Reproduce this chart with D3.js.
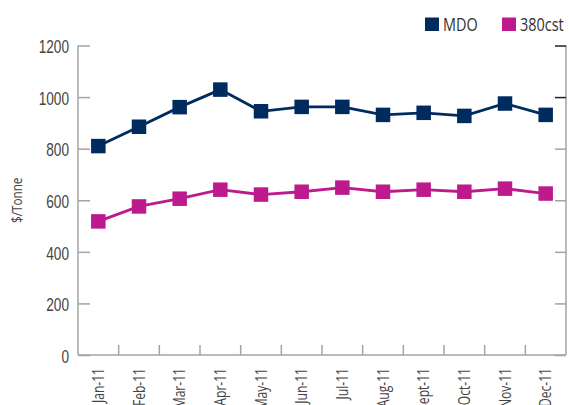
<!DOCTYPE html>
<html>
<head>
<meta charset="utf-8">
<script src="https://cdn.jsdelivr.net/npm/d3@7"></script>
<style>
  body { margin: 0; background: #fff; }
  svg { display: block; font-family: "Open Sans", sans-serif; }
</style>
</head>
<body>
<svg width="569" height="405"></svg>
<script>
// data
var months = ["Jan-11", "Feb-11", "Mar-11", "Apr-11", "May-11", "Jun-11",
              "Jul-11", "Aug-11", "Sept-11", "Oct-11", "Nov-11", "Dec-11"];
var mdo = [810, 885, 961, 1029, 945, 962, 962, 931, 939, 927, 975, 931];
var cst380 = [518, 576, 606, 641, 622, 633, 649, 633, 641, 633, 645, 626];
var yTicks = [0, 200, 400, 600, 800, 1000, 1200];
var seriesNames = ["MDO", "380cst"];
var seriesColors = ["#002b5f", "#bd1a8d"];

var svg = d3.select("svg");
var plotL = 78, plotR = 566, plotT = 45.5, plotB = 355;
var narrow = " scale(0.78,1)";   // no condensed face installed, squeeze the text

var x = d3.scaleBand().domain(months).range([plotL, plotR]);
var y = d3.scaleLinear().domain([0, 1200]).range([plotB, plotT]);

var axisGrey = "#a3a3a3";
var textCol = "#444";

// left axis, ticks point inward
var yAxis = svg.append("g")
    .attr("transform", "translate(" + plotL + ",0)")
    .call(d3.axisLeft(y).tickValues(yTicks).tickSize(-12).tickFormat(d3.format("d")));
yAxis.select(".domain").attr("stroke", axisGrey).attr("stroke-width", 1.5)
    .attr("d", "M0," + y(1200) + "V" + plotB);
yAxis.selectAll(".tick line").attr("stroke", axisGrey).attr("stroke-width", 1.5);
yAxis.selectAll(".tick text").attr("fill", textCol).style("font-size", "17.5px")
    .attr("x", 0).attr("dy", "0.36em")
    .attr("transform", "translate(-9,1)" + narrow);

// right axis
var yAxisR = svg.append("g")
    .attr("transform", "translate(" + plotR + ",0)")
    .call(d3.axisRight(y).tickValues(yTicks).tickSize(-11).tickFormat(""));
yAxisR.select(".domain").attr("stroke", axisGrey).attr("stroke-width", 1.5)
    .attr("d", "M0," + y(1200) + "V" + plotB);
yAxisR.selectAll(".tick line").attr("stroke-width", 1.5)
    .attr("stroke", function(d) { return d >= 1000 ? "#222" : axisGrey; });

// x axis, ticks on band boundaries pointing up
var xg = svg.append("g");
xg.append("line")
    .attr("x1", plotL).attr("x2", plotR)
    .attr("y1", plotB).attr("y2", plotB)
    .attr("stroke", axisGrey).attr("stroke-width", 1.5);
xg.selectAll(".xt")
    .data(months.slice(1))
    .enter().append("line")
    .attr("x1", function(d) { return x(d); })
    .attr("x2", function(d) { return x(d); })
    .attr("y1", plotB).attr("y2", plotB - 10)
    .attr("stroke", axisGrey).attr("stroke-width", 1.5);
xg.selectAll(".xl")
    .data(months)
    .enter().append("text")
    .attr("transform", function(d) {
      return "translate(" + (x(d) + x.bandwidth() / 2) + ",368) rotate(-90)" + narrow;
    })
    .attr("text-anchor", "end")
    .attr("dy", "0.36em")
    .attr("fill", textCol)
    .style("font-size", "15.5px")
    .text(function(d) { return d; });

// y title
svg.append("text")
    .attr("transform", "translate(17," + ((plotT + plotB) / 2) + ") rotate(-90)" + narrow)
    .attr("text-anchor", "middle")
    .attr("dy", "0.36em")
    .attr("fill", textCol)
    .style("font-size", "15px")
    .text("$/Tonne");

// series
var line = d3.line()
    .x(function(d, i) { return x(months[i]) + x.bandwidth() / 2; })
    .y(function(d) { return y(d); });

[mdo, cst380].forEach(function(vals, k) {
  svg.append("path")
      .datum(vals)
      .attr("fill", "none")
      .attr("stroke", seriesColors[k])
      .attr("stroke-width", 2.8)
      .attr("d", line);
  svg.selectAll(".m" + k)
      .data(vals)
      .enter().append("rect")
      .attr("x", function(d, i) { return x(months[i]) + x.bandwidth() / 2 - 7.25; })
      .attr("y", function(d) { return y(d) - 7.25; })
      .attr("width", 14.5).attr("height", 14.5)
      .attr("fill", seriesColors[k]);
});

// legend
var legX = [425, 502];
var leg = svg.selectAll(".leg")
    .data(seriesNames)
    .enter().append("g")
    .attr("transform", function(d, i) { return "translate(" + legX[i] + ",17.5)"; });
leg.append("rect")
    .attr("width", 14).attr("height", 13.5)
    .attr("fill", function(d, i) { return seriesColors[i]; });
leg.append("text")
    .attr("transform", "translate(18,13.3)" + narrow)
    .attr("fill", "#333")
    .style("font-size", "18.5px")
    .text(function(d) { return d; });
</script>
</body>
</html>
